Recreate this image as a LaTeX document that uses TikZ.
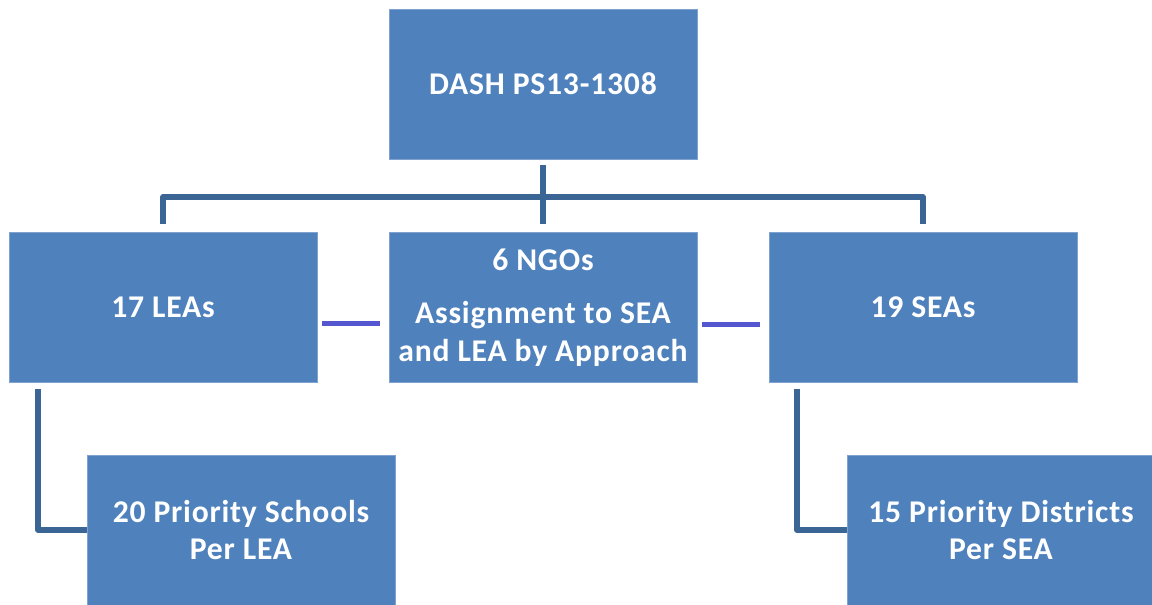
\documentclass[tikz,border=0pt]{standalone}
\usepackage{fontspec}
\setmainfont{Carlito}[LetterSpace=2.5]
\usetikzlibrary{positioning}
\definecolor{boxblue}{HTML}{4F81BD}
\definecolor{boxedge}{HTML}{7FA2D0}
\definecolor{linkdark}{HTML}{3A6595}
\definecolor{linkpurple}{HTML}{5457CF}
\begin{document}
\begin{tikzpicture}[x=0.025cm,y=-0.025cm,
  unit/.style={rectangle,fill=boxblue,draw=boxedge,line width=0.5pt,
    minimum width=7.7cm,minimum height=3.75cm,inner sep=0pt,
    text=white,align=center,font=\fontsize{22.5}{27}\selectfont\bfseries},
  link/.style={linkdark,line width=3.6pt,line join=round},
  peer/.style={linkpurple,line width=3pt}]
\useasboundingbox (0,0) rectangle (1152,605);

\node[unit] (dash) at (543,84) {DASH PS13-1308};
\node[unit] (lea) at (163,307.5) {17 LEAs};
\node[unit] (ngo) at (543,307.5) {6 NGOs\\[11pt]Assignment to SEA\\and LEA by Approach};
\node[unit] (sea) at (923,307.5) {19 SEAs};
\node[unit] (schools) at (241,530) {20 Priority Schools\\Per LEA};
\node[unit] (districts) at (1001,530) {15 Priority Districts\\Per SEA};

\coordinate (bus) at (543,197);
\draw[link] ([shift={(0,6)}]dash.south) -- ([shift={(0,-8)}]ngo.north);
\draw[link] ([shift={(0,-8)}]lea.north) |- (bus) -| ([shift={(0,-8)}]sea.north);
\draw[link] ([shift={(-125,6)}]lea.south) |- (schools.west);
\draw[link] ([shift={(-126,6)}]sea.south) |- (districts.west);
\draw[peer] ([shift={(5,16)}]lea.east) -- ([shift={(-9,16)}]ngo.west);
\draw[peer] ([shift={(5,17)}]ngo.east) -- ([shift={(-9,17)}]sea.west);
\end{tikzpicture}
\end{document}
